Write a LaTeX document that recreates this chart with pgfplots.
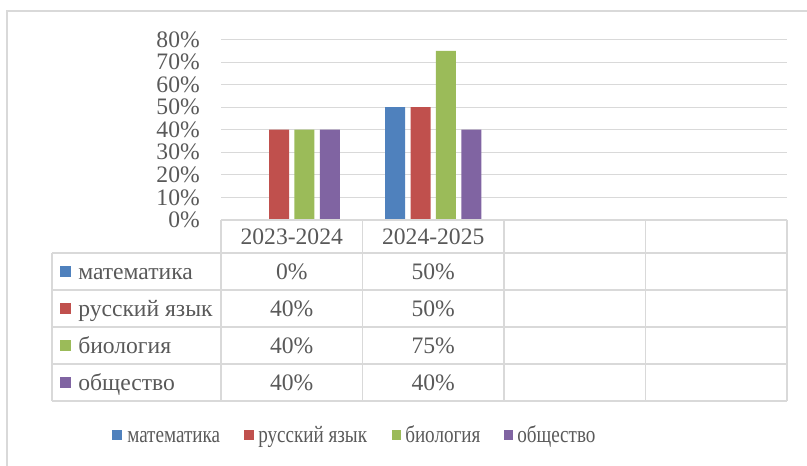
\documentclass[border=0pt]{standalone}
\usepackage{pgfplots}
\pgfplotsset{compat=1.18}
\usepackage{graphicx}
\usepackage{fontspec}
\setmainfont{Liberation Serif}
\definecolor{cblue}{HTML}{4F81BD}
\definecolor{cred}{HTML}{C0504D}
\definecolor{cgreen}{HTML}{9BBB59}
\definecolor{cpurple}{HTML}{8064A2}
\definecolor{txt}{HTML}{595959}
\definecolor{gridc}{HTML}{D9D9D9}
\newcommand\f{\fontsize{17.7}{20}\selectfont}
\begin{document}
\begin{tikzpicture}
\begin{scope}[x=0.75pt,y=-0.75pt]
\path[use as bounding box] (0,0) rectangle (807,466);
\coordinate (O) at (221,220);
\draw[gridc, line width=1.1pt] (7,466) -- (7,11) -- (807,11);
\end{scope}
\begin{axis}[at={(O)}, anchor=south west, scale only axis,
  width=424.5pt, height=135.4pt,
  ymin=0, ymax=80, xmin=-0.5, xmax=3.5,
  ybar=4.1pt, bar width=15pt,
  axis x line*=bottom, axis y line*=left,
  x axis line style={draw=none}, y axis line style={draw=none},
  major tick length=0pt,
  ytick={0,10,...,80},
  yticklabel={\pgfmathprintnumber{\tick}\%},
  /pgf/number format/assume math mode=true,
  yticklabel style={font=\f, text=txt, anchor=east, inner sep=0pt, xshift=-15.75pt},
  xtick={0,1}, xticklabels={2023-2024,2024-2025},
  xticklabel style={font=\f, text=txt, anchor=base, inner sep=0pt, yshift=-18.75pt},
  ymajorgrids, grid style={gridc, line width=0.8pt},
  clip=false,
]
\addplot[fill=cblue, draw=none] coordinates {(0,0) (1,50)};
\addplot[fill=cred, draw=none] coordinates {(0,40) (1,50)};
\addplot[fill=cgreen, draw=none] coordinates {(0,40) (1,75)};
\addplot[fill=cpurple, draw=none] coordinates {(0,40) (1,40)};
\end{axis}
\begin{scope}[x=0.75pt,y=-0.75pt]
\begin{scope}[gridc, line width=1.1pt]
\draw (221,220) -- (787,220);
\foreach \y in {253,290,327,364,401} \draw (52,\y) -- (787,\y);
\draw (52,253) -- (52,401);
\foreach \x in {221,362.5,504,645.5,787} \draw (\x,220) -- (\x,401);
\end{scope}
\begin{scope}[every node/.style={font=\f, text=txt, inner sep=0pt}]
% row labels
\fill[cblue] (60,266.5) rectangle (71,277.5);
\node[anchor=base west] at (78,280) {математика};
\fill[cred] (60,303.5) rectangle (71,314.5);
\node[anchor=base west] at (78,317) {русский язык};
\fill[cgreen] (60,340.5) rectangle (71,351.5);
\node[anchor=base west] at (78,354) {биология};
\fill[cpurple] (60,377.5) rectangle (71,388.5);
\node[anchor=base west] at (78,391) {общество};
% values
\node[anchor=base] at (291.75,280) {0\%};
\node[anchor=base] at (433.25,280) {50\%};
\node[anchor=base] at (291.75,317) {40\%};
\node[anchor=base] at (433.25,317) {50\%};
\node[anchor=base] at (291.75,354) {40\%};
\node[anchor=base] at (433.25,354) {75\%};
\node[anchor=base] at (291.75,391) {40\%};
\node[anchor=base] at (433.25,391) {40\%};
% legend
\fill[cblue] (112,430) rectangle (122,440);
\node[anchor=base west] at (127,443) {\scalebox{0.81}[1]{математика}};
\fill[cred] (244,430) rectangle (254,440);
\node[anchor=base west] at (258,443) {\scalebox{0.81}[1]{русский язык}};
\fill[cgreen] (392,430) rectangle (401,440);
\node[anchor=base west] at (405,443) {\scalebox{0.81}[1]{биология}};
\fill[cpurple] (504,430) rectangle (513,440);
\node[anchor=base west] at (517,443) {\scalebox{0.81}[1]{общество}};
\end{scope}
\end{scope}
\end{tikzpicture}
\end{document}
